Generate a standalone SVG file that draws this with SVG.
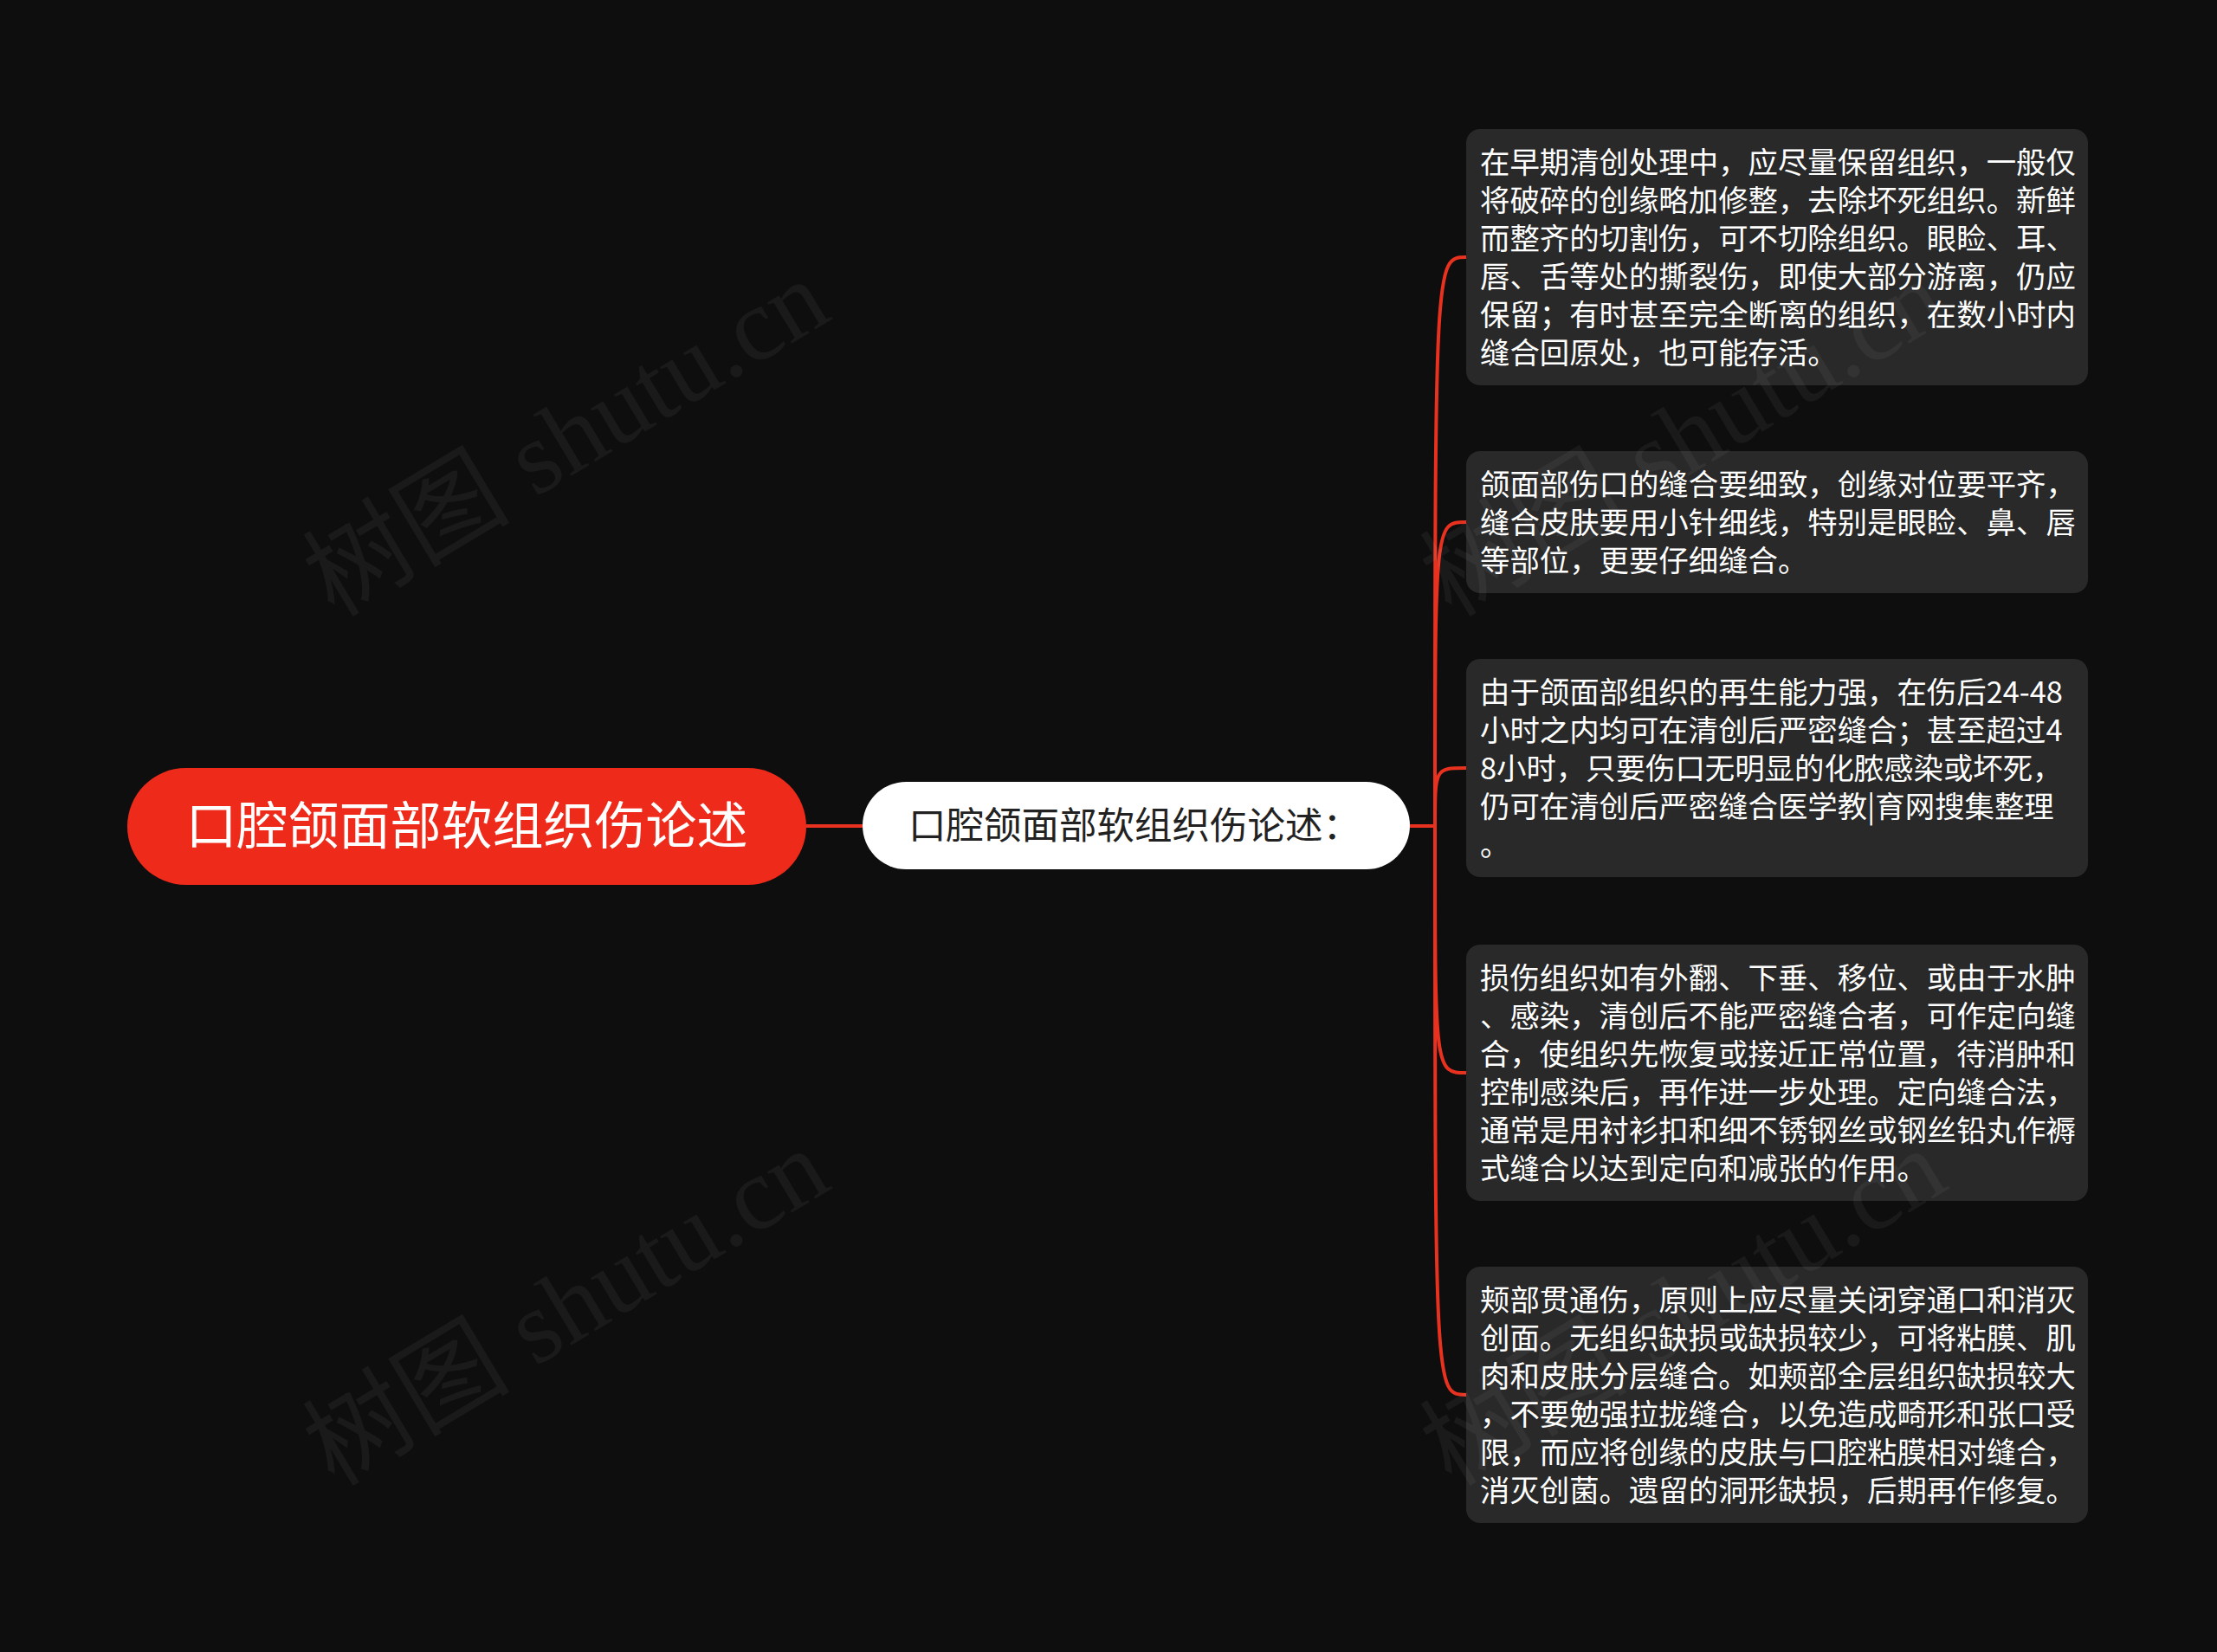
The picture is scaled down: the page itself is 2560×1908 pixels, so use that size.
<svg xmlns="http://www.w3.org/2000/svg" width="2560" height="1908" viewBox="0 0 2560 1908">
<style>
.bg{fill:#0e0e0e}
.conn{fill:none;stroke:#e8321f;stroke-width:4}
.leaf rect{fill:#292929}
.leaf text{fill:#ffffff;font-family:"Noto Sans CJK SC","Noto Sans",sans-serif;font-size:34.4px}
.wm{fill:#ffffff;fill-opacity:0.05;font-family:"Liberation Serif","Noto Sans CJK SC",serif;font-size:120px}
</style>
<rect class="bg" x="0" y="0" width="2560" height="1908"/>
<g id="connectors">
<path class="conn" d="M931,954 L996,954"/>
<path class="conn" d="M1628,954 L1657,954"/>
<path class="conn" d="M1657,954 C1657,297 1657,297 1693,297"/>
<path class="conn" d="M1657,954 C1657,603 1657,603 1693,603"/>
<path class="conn" d="M1657,954 C1657,887 1657,887 1693,887"/>
<path class="conn" d="M1657,954 C1657,1239 1657,1239 1693,1239"/>
<path class="conn" d="M1657,954 C1657,1611 1657,1611 1693,1611"/>
</g>
<g id="root">
<rect x="147" y="887" width="784" height="135" rx="67.5" fill="#ee2b1b"/>
<text x="539" y="975" text-anchor="middle" fill="#ffffff" font-family="Noto Sans CJK SC, sans-serif" font-size="59">口腔颌面部软组织伤论述</text>
</g>
<g id="mid">
<rect x="996" y="903" width="632" height="101" rx="50.5" fill="#ffffff"/>
<text x="1049" y="969" fill="#222222" font-family="Noto Sans CJK SC, sans-serif" font-size="43.5">口腔颌面部软组织伤论述：</text>
</g>
<g id="leaf1" class="leaf">
<rect x="1693" y="149" width="718" height="296" rx="16"/>
<text x="1709">
<tspan x="1709" y="200">在早期清创处理中，应尽量保留组织，一般仅</tspan>
<tspan x="1709" y="244">将破碎的创缘略加修整，去除坏死组织。新鲜</tspan>
<tspan x="1709" y="288">而整齐的切割伤，可不切除组织。眼睑、耳、</tspan>
<tspan x="1709" y="332">唇、舌等处的撕裂伤，即使大部分游离，仍应</tspan>
<tspan x="1709" y="376">保留；有时甚至完全断离的组织，在数小时内</tspan>
<tspan x="1709" y="420">缝合回原处，也可能存活。</tspan>
</text>
</g>
<g id="leaf2" class="leaf">
<rect x="1693" y="521" width="718" height="164" rx="16"/>
<text x="1709">
<tspan x="1709" y="572">颌面部伤口的缝合要细致，创缘对位要平齐，</tspan>
<tspan x="1709" y="616">缝合皮肤要用小针细线，特别是眼睑、鼻、唇</tspan>
<tspan x="1709" y="660">等部位，更要仔细缝合。</tspan>
</text>
</g>
<g id="leaf3" class="leaf">
<rect x="1693" y="761" width="718" height="252" rx="16"/>
<text x="1709">
<tspan x="1709" y="812">由于颌面部组织的再生能力强，在伤后24-48</tspan>
<tspan x="1709" y="856">小时之内均可在清创后严密缝合；甚至超过4</tspan>
<tspan x="1709" y="900">8小时，只要伤口无明显的化脓感染或坏死，</tspan>
<tspan x="1709" y="944">仍可在清创后严密缝合医学教|育网搜集整理</tspan>
<tspan x="1709" y="988">。</tspan>
</text>
</g>
<g id="leaf4" class="leaf">
<rect x="1693" y="1091" width="718" height="296" rx="16"/>
<text x="1709">
<tspan x="1709" y="1142">损伤组织如有外翻、下垂、移位、或由于水肿</tspan>
<tspan x="1709" y="1186">、感染，清创后不能严密缝合者，可作定向缝</tspan>
<tspan x="1709" y="1230">合，使组织先恢复或接近正常位置，待消肿和</tspan>
<tspan x="1709" y="1274">控制感染后，再作进一步处理。定向缝合法，</tspan>
<tspan x="1709" y="1318">通常是用衬衫扣和细不锈钢丝或钢丝铅丸作褥</tspan>
<tspan x="1709" y="1362">式缝合以达到定向和减张的作用。</tspan>
</text>
</g>
<g id="leaf5" class="leaf">
<rect x="1693" y="1463" width="718" height="296" rx="16"/>
<text x="1709">
<tspan x="1709" y="1514">颊部贯通伤，原则上应尽量关闭穿通口和消灭</tspan>
<tspan x="1709" y="1558">创面。无组织缺损或缺损较少，可将粘膜、肌</tspan>
<tspan x="1709" y="1602">肉和皮肤分层缝合。如颊部全层组织缺损较大</tspan>
<tspan x="1709" y="1646">，不要勉强拉拢缝合，以免造成畸形和张口受</tspan>
<tspan x="1709" y="1690">限，而应将创缘的皮肤与口腔粘膜相对缝合，</tspan>
<tspan x="1709" y="1734">消灭创菌。遗留的洞形缺损，后期再作修复。</tspan>
</text>
</g>
<g id="watermarks">
<text class="wm" transform="translate(386,714) rotate(-31)">树图 shutu.cn</text>
<text class="wm" transform="translate(386,1718) rotate(-31)">树图 shutu.cn</text>
<text class="wm" transform="translate(1676,714) rotate(-31)">树图 shutu.cn</text>
<text class="wm" transform="translate(1676,1718) rotate(-31)">树图 shutu.cn</text>
</g>
</svg>
